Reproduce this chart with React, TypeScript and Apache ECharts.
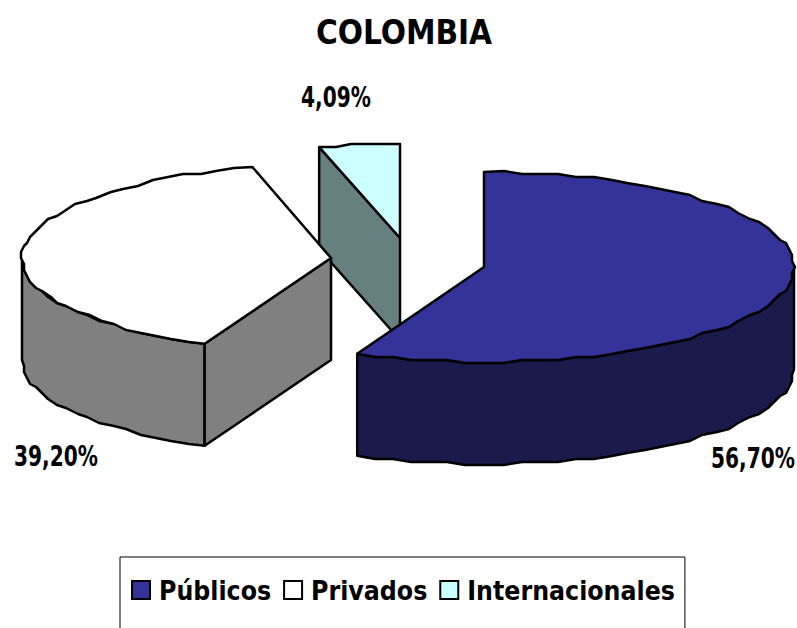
import React, { useEffect, useRef } from "react";
import * as echarts from "echarts";

const titleText = "COLOMBIA";
const categories = ["Públicos", "Privados", "Internacionales"];
const values = [56.7, 39.2, 4.09];
const topColors = ["#333399", "#FFFFFF", "#CCFFFF"];
const sideColors = ["#1A1A4D", "#808080", "#668080"];

const FONT = '"DejaVu Sans Condensed", "DejaVu Sans", sans-serif';
const total = values.reduce((a, b) => a + b, 0);
const starts = values.map((_, i) => (values.slice(0, i).reduce((a, b) => a + b, 0) / total) * 360);
const ends = values.map((_, i) => (values.slice(0, i + 1).reduce((a, b) => a + b, 0) / total) * 360);

// exploded slice placement of the 3D pie
const sliceGeom = [
  { cx: 484, cy: 267, rx: 310, ry: 95, depth: 102, lx: 753, ly: 458 },
  { cx: 331, cy: 258, rx: 309, ry: 94, depth: 102, lx: 56, ly: 456 },
  { cx: 400, cy: 238, rx: 318, ry: 94, depth: 102, lx: 336, ly: 97 },
];

const snap = (v: number, g: number) => Math.round(v / g) * g;

function arc(g: any, a0: number, a1: number, dy = 0): number[][] {
  const pts: number[][] = [];
  const n = Math.max(1, Math.ceil(Math.abs(a1 - a0) / 3.5));
  for (let k = 0; k <= n; k++) {
    const t = ((a0 + ((a1 - a0) * k) / n) * Math.PI) / 180;
    const x = g.cx + g.rx * Math.sin(t);
    const y = g.cy - g.ry * Math.cos(t);
    const edge = k === 0 || k === n;
    pts.push([edge ? x : snap(x, 3), (edge ? y : snap(y, 3)) + dy]);
  }
  return pts;
}

const line = { stroke: "#000", lineWidth: 2.5, lineJoin: "round" as const };

function makeRender(i: number) {
  return (_params: any, api: any) => {
    const value = api.value(0) as number;
    const g = sliceGeom[i];
    const a0 = starts[i];
    const a1 = ends[i];
    const children: any[] = [];
    const side = { fill: sideColors[i], ...line };
    const poly = (points: number[][], style: any) =>
      children.push({ type: "polygon", shape: { points }, style });

    // outer wall: front half of the ellipse only
    const w0 = Math.max(a0, 90);
    const w1 = Math.min(a1, 270);
    if (w1 > w0) {
      poly([...arc(g, w0, w1), ...arc(g, w0, w1, g.depth).reverse()], side);
    }
    const apex = [g.cx, g.cy];
    const apexLow = [g.cx, g.cy + g.depth];
    const rim = (a: number) => {
      const t = (a * Math.PI) / 180;
      return [g.cx + g.rx * Math.sin(t), g.cy - g.ry * Math.cos(t)];
    };
    const cut = (a: number) => {
      const p = rim(a);
      poly([apex, p, [p[0], p[1] + g.depth], apexLow], side);
    };
    if (Math.sin((a0 * Math.PI) / 180) < 0) cut(a0);
    if (Math.sin((a1 * Math.PI) / 180) > 1e-6) cut(a1);
    poly([apex, ...arc(g, a0, a1)], { fill: topColors[i], ...line });
    children.push({
      type: "text",
      x: g.lx,
      y: g.ly,
      scaleX: 0.8,
      style: {
        text: value.toFixed(2).replace(".", ",") + "%",
        x: 0,
        y: 0,
        font: `bold 28px ${FONT}`,
        fill: "#000",
        align: "center",
        verticalAlign: "middle",
      },
    });
    return { type: "group", children };
  };
}

export default function App() {
  const ref = useRef<HTMLDivElement>(null);
  useEffect(() => {
    const chart = echarts.init(ref.current!, null, { renderer: "svg" });
    // painted back to front
    const order = [2, 1, 0];
    chart.setOption({
      animation: false,
      backgroundColor: "#fff",
      title: {
        text: titleText,
        left: 404,
        top: 32,
        textAlign: "center",
        textVerticalAlign: "middle",
        padding: 0,
        textStyle: { fontFamily: FONT, fontSize: 33, fontWeight: "bold", color: "#000" },
      },
      legend: {
        left: 120,
        top: 557,
        padding: [20, 10, 40, 11],
        itemGap: 12,
        itemWidth: 18,
        itemHeight: 18,
        borderColor: "#000",
        borderWidth: 1,
        selectedMode: false,
        data: categories.map((name, i) => ({
          name,
          icon: "rect",
          itemStyle: { color: topColors[i], borderColor: "#000", borderWidth: 2 },
        })),
        textStyle: { fontFamily: FONT, fontSize: 26.4, fontWeight: "bold", color: "#000", padding: [0, 0, 0, 4] },
      },
      series: order.map((i) => ({
        type: "custom",
        name: categories[i],
        coordinateSystem: "none",
        silent: true,
        itemStyle: { color: topColors[i] },
        data: [[values[i]]],
        renderItem: makeRender(i),
      })),
    });
    return () => chart.dispose();
  }, []);
  return <div ref={ref} style={{ position: "absolute", left: 0, top: 0, width: 797, height: 628 }} />;
}
